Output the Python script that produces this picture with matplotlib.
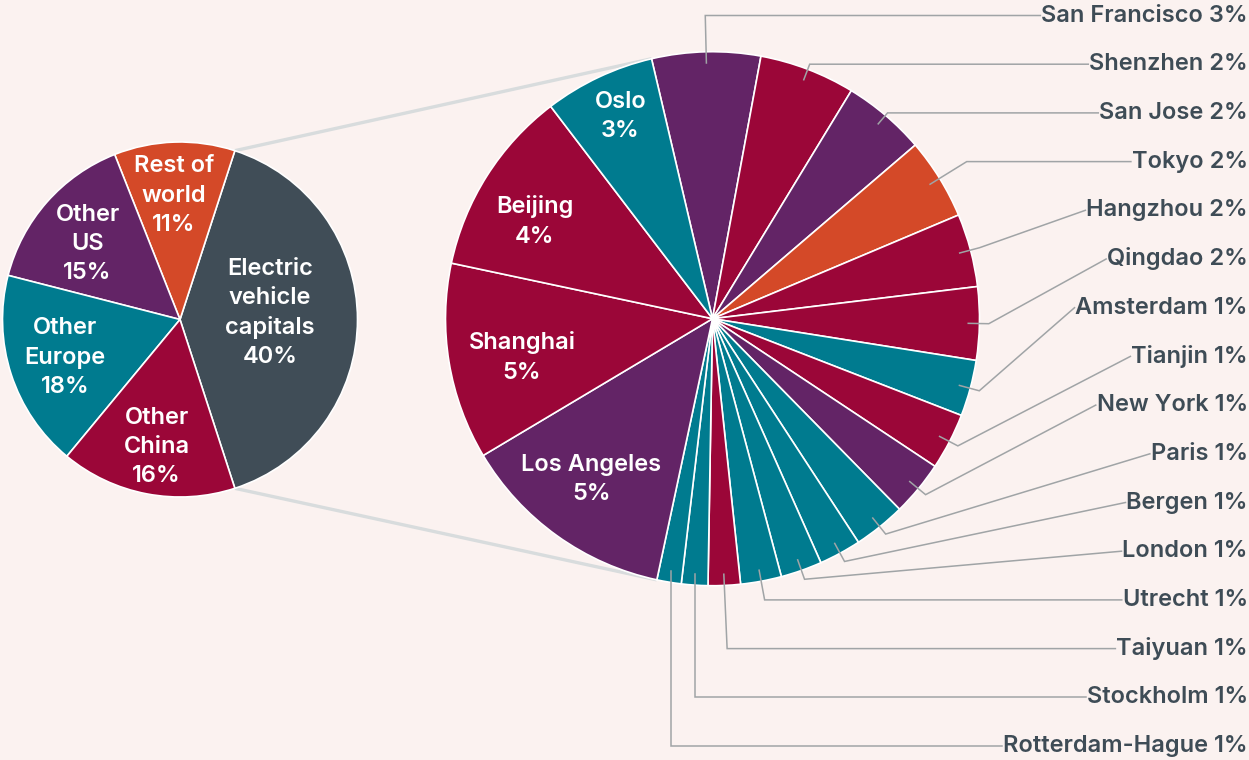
import numpy as np
import matplotlib.pyplot as plt

# colours
BG = "#FBF2F0"
PURPLE = "#632466"
CRIMSON = "#9B0638"
TEAL = "#007B8F"
ORANGE = "#D44928"
SLATE = "#404D57"
TEXT = "#3E4C56"

# left pie: where the electric cars are
groups = ["Electric\nvehicle\ncapitals", "Rest of\nworld", "Other\nUS", "Other\nEurope", "Other\nChina"]
group_share = [40, 11, 15, 18, 16]
group_colors = [SLATE, ORANGE, PURPLE, TEAL, CRIMSON]

# right pie: the capitals, clockwise from the top
cities = ["San Francisco", "Shenzhen", "San Jose", "Tokyo", "Hangzhou", "Qingdao",
          "Amsterdam", "Tianjin", "New York", "Paris", "Bergen", "London", "Utrecht",
          "Taiyuan", "Stockholm", "Rotterdam-Hague", "Los Angeles", "Shanghai",
          "Beijing", "Oslo"]
city_share = [2.63, 2.32, 2.01, 1.97, 1.77, 1.77, 1.36, 1.37, 1.33, 1.26, 1.02, 1.00,
              0.99, 0.78, 0.64, 0.59, 5.24, 4.76, 4.52, 2.68]
city_label = ["3%", "2%", "2%", "2%", "2%", "2%", "1%", "1%", "1%", "1%", "1%", "1%",
              "1%", "1%", "1%", "1%", "5%", "5%", "4%", "3%"]
city_colors = [PURPLE, CRIMSON, PURPLE, ORANGE, CRIMSON, CRIMSON, TEAL, CRIMSON, PURPLE,
               TEAL, TEAL, TEAL, TEAL, CRIMSON, TEAL, TEAL, PURPLE, CRIMSON, CRIMSON, TEAL]
n_outside = 16  # first 16 cities get labels on the right

W, H = 1249, 760
FONT = "Inter"
FS = 17
WEIGHT = "semibold"

fig = plt.figure(figsize=(W / 100, H / 100), dpi=100, facecolor=BG)
ax = fig.add_axes([0, 0, 1, 1])
ax.set_facecolor(BG)

lc, lr = (180, H - 319.5), 177.5
rc, rr = (712.5, H - 318.7), 267

wl, _ = ax.pie(group_share, colors=group_colors, startangle=-72, counterclock=True,
               center=lc, radius=lr, wedgeprops=dict(edgecolor="white", linewidth=1.2))
wr, _ = ax.pie(city_share, colors=city_colors, startangle=103.2, counterclock=False,
               center=rc, radius=rr, wedgeprops=dict(edgecolor="white", linewidth=1.2))
for w in list(wl) + list(wr):
    w.set_zorder(3)

ax.set_xlim(0, W)
ax.set_ylim(0, H)
ax.set_aspect("equal")
ax.axis("off")

def pt(c, r, ang):
    a = np.radians(ang)
    return c[0] + r * np.cos(a), c[1] + r * np.sin(a)

# lines joining the EV slice to the big pie
p1 = pt(lc, lr, wl[0].theta2)
p2 = pt(rc, rr, wr[-1].theta1)  # Oslo / San Francisco edge
ax.plot([p1[0], p2[0]], [p1[1], p2[1]], color="#D8DCDD", lw=2.4, zorder=1,
        solid_capstyle="butt")
p1 = pt(lc, lr, wl[0].theta1)
p2 = pt(rc, rr, wr[n_outside].theta2)  # Rotterdam / LA edge
ax.plot([p1[0], p2[0]], [p1[1], p2[1]], color="#D8DCDD", lw=2.4, zorder=1,
        solid_capstyle="butt")

# labels inside the left pie: (distance, angle nudge)
left_pos = [(0.51, 5.4), (0.71, 0.9), (0.68, 1.4), (0.68, -0.6), (0.72, 0.3)]
for w, g, s, (d, da) in zip(wl, groups, group_share, left_pos):
    mid = (w.theta1 + w.theta2) / 2 + da
    x, y = pt(lc, d * lr, mid)
    ax.text(x, y - 2, f"{g}\n{s}%", ha="center", va="center", color="white",
            fontsize=FS, fontfamily=FONT, fontweight=WEIGHT, linespacing=1.42, zorder=5)

# labels inside the right pie (big cities)
inner_pos = {16: (0.75, -1.9), 17: (0.73, 1.5), 18: (0.765, 3.3), 19: (0.84, -0.7)}
for i, (d, da) in inner_pos.items():
    w = wr[i]
    mid = (w.theta1 + w.theta2) / 2 + da
    x, y = pt(rc, d * rr, mid)
    ax.text(x + 1, y - 2, f"{cities[i]}\n{city_label[i]}", ha="center", va="center",
            color="white", fontsize=FS, fontfamily=FONT, fontweight=WEIGHT,
            linespacing=1.42, zorder=5)

# labels on the right with leader lines
texts = []
label_y = []
for i in range(n_outside):
    ly = H - (15.5 + 48.7 * i)
    label_y.append(ly)
    t = ax.text(1248, ly, f"{cities[i]} {city_label[i]}", ha="right", va="center",
                color=TEXT, fontsize=FS, fontfamily=FONT, fontweight=WEIGHT, zorder=5)
    texts.append(t)

fig.canvas.draw()
rend = fig.canvas.get_renderer()
inv = ax.transData.inverted()
for i in range(n_outside):
    w = wr[i]
    mid = (w.theta1 + w.theta2) / 2
    a = np.radians(mid)
    ly = label_y[i]
    sx, sy = pt(rc, 0.958 * rr, mid)
    bb = texts[i].get_window_extent(rend)
    tx = inv.transform((bb.x0, bb.y0))[0] - 1
    r_reach = (ly - rc[1]) / np.sin(a) if abs(np.sin(a)) > 1e-6 else 1e9
    if np.sin(a) > 0.4 and r_reach <= 1.15 * rr:
        ex, ey = pt(rc, r_reach, mid)
    elif np.sin(a) < -0.95:
        ex, ey = pt(rc, r_reach, mid)
        ex = max(ex, sx)
    else:
        ex, ey = pt(rc, 1.035 * rr, mid)
    ax.plot([sx, ex, tx], [sy, ey, ly], color="#A0A4A6", lw=1.1, zorder=4,
            solid_joinstyle="miter")

fig.savefig("out.png", dpi=100, facecolor=BG)
